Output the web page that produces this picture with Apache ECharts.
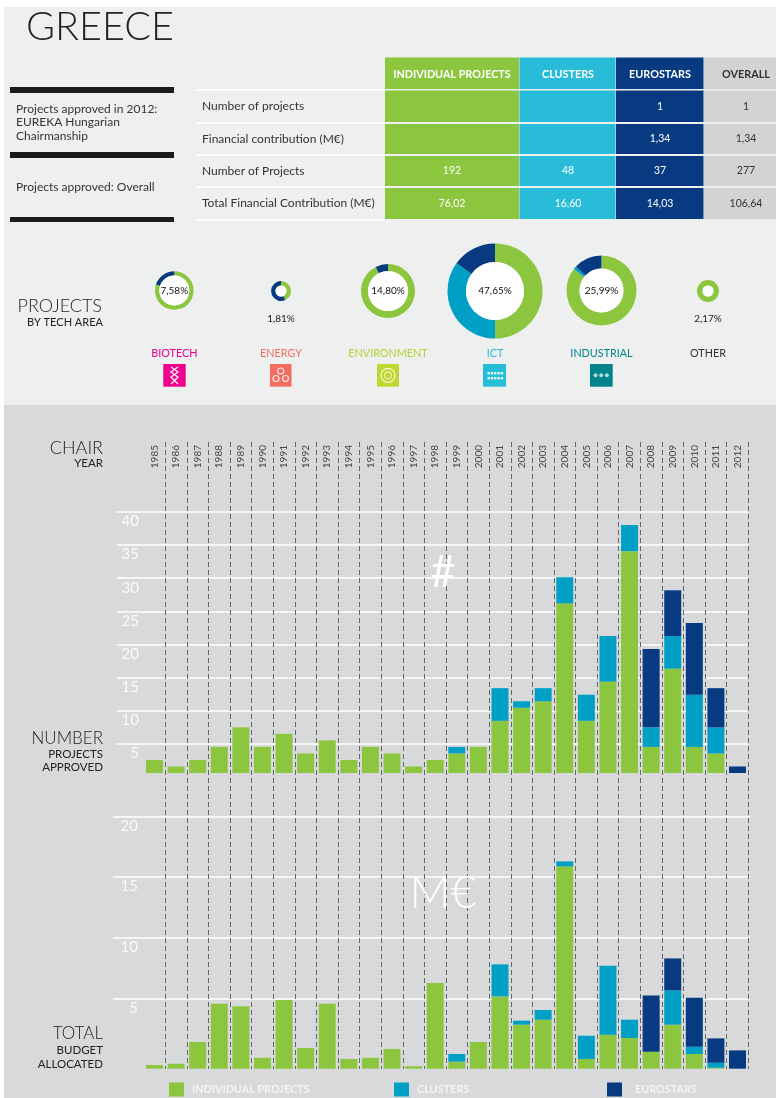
<!DOCTYPE html>
<html>
<head>
<meta charset="utf-8">
<style>html,body{margin:0;padding:0;background:#fff}#c{width:776px;height:1098px}</style>
<script src="https://cdn.jsdelivr.net/npm/echarts@6/dist/echarts.min.js"></script>
</head>
<body>
<div id="c"></div>
<script>
const years = ['1985','1986','1987','1988','1989','1990','1991','1992','1993','1994','1995','1996','1997','1998','1999','2000','2001','2002','2003','2004','2005','2006','2007','2008','2009','2010','2011','2012'];
const projGreen = [2,1,2,4,7,4,6,3,5,2,4,3,1,2,3,4,8,10,11,26,8,14,34,4,16,4,3,0];
const projCyan  = [0,0,0,0,0,0,0,0,0,0,0,0,0,0,1,0,5,1,2,4,4,7,4,3,5,8,4,0];
const projNavy  = [0,0,0,0,0,0,0,0,0,0,0,0,0,0,0,0,0,0,0,0,0,0,0,12,7,11,6,1];
const budgetGreen = [0.3,0.41,2.2,5.36,5.14,0.9,5.66,1.7,5.36,0.8,0.9,1.62,0.2,7.06,0.58,2.2,5.96,3.63,4.04,16.68,0.8,2.8,2.53,1.4,3.63,1.21,0.08,0];
const budgetCyan  = [0,0,0,0,0,0,0,0,0,0,0,0,0,0,0.63,0,2.64,0.33,0.8,0.41,1.92,5.69,1.51,0,2.83,0.6,0.41,0];
const budgetNavy  = [0,0,0,0,0,0,0,0,0,0,0,0,0,0,0,0,0,0,0,0,0,0,0,4.64,2.63,4.04,2.01,1.51];
const techNames = ['BIOTECH','ENERGY','ENVIRONMENT','ICT','INDUSTRIAL','OTHER'];
const techShares = ['7,58%','1,81%','14,80%','47,65%','25,99%','2,17%'];
const techGreen = [80,43,92.5,50,85.5,100];
const techCyan  = [0,0,0,35,1.5,0];
const techNavy  = [20,57,7.5,15,13,0];
const tableCols = ['INDIVIDUAL PROJECTS','CLUSTERS','EUROSTARS','OVERALL'];
const tableRows = ['Number of projects','Financial contribution (M€)','Number of Projects','Total Financial Contribution (M€)'];
const tableIndividual = ['','','192','76,02'];
const tableClusters = ['','','48','16,60'];
const tableEurostars = ['1','1,34','37','14,03'];
const tableOverall = ['1','1,34','277','106,64'];

const GREEN='#8cc63f', CYAN='#009fc5', NAVY='#083a82', LIGHTCYAN='#29bcd9';
const FONT='Lato, "Noto Sans", sans-serif';
const NAMES=['INDIVIDUAL PROJECTS','CLUSTERS','EUROSTARS'];

const g=[];
const rect=(x,y,w,h,fill,z=-5)=>g.push({type:'rect',shape:{x,y,width:w,height:h},style:{fill},z,silent:true});
const text=(x,y,t,o={})=>g.push({type:'text',x,y,z:20,silent:true,style:{text:t,fill:o.c||'#333',font:`${o.w||400} ${o.s||12}px ${FONT}`,textAlign:o.a||'left',textVerticalAlign:'middle'}});
const circ=(cx,cy,r,st)=>g.push({type:'circle',shape:{cx,cy,r},style:st,z:10,silent:true});

// panels
rect(4,7,772,398,'#eef0ef',-10);
rect(4,405,772,693,'#d8d9db',-10);

text(26,27.5,'GREECE',{s:39.5,w:300,c:'#222'});

// left side bars and captions
[[87,6],[152,6],[217,5]].forEach(b=>rect(10,b[0],164,b[1],'#1a1a1a'));
text(16,109,'Projects approved in 2012:');
text(16,122.5,'EUREKA Hungarian');
text(16,136,'Chairmanship');
text(16,187.5,'Projects approved: Overall');

// table
const colX=[385,519.5,616,704,776];
const colCenter=[452,568,660,746];
const colFill=[GREEN,LIGHTCYAN,NAVY,'#d2d3d5'];
const rowY=[[57.5,89],[90.5,122],[124,154],[156,186],[188,219]];
const rowVals=[tableIndividual,tableClusters,tableEurostars,tableOverall];
colFill.forEach((f,i)=>rowY.forEach(r=>rect(colX[i],r[0],colX[i+1]-colX[i]-(i<3?0.5:0),r[1]-r[0],f)));
tableCols.forEach((t,i)=>text(colCenter[i],74.5,t,{a:'center',w:700,s:10.8,c:i==3?'#333':'#fff'}));
tableRows.forEach((t,j)=>{
  const y=(rowY[j+1][0]+rowY[j+1][1])/2;
  text(202,y,t);
  rowVals.forEach((v,i)=>{ if(v[j]) text(colCenter[i],y,v[j],{a:'center',s:10.5,c:i==3?'#333':'#fff'}); });
});
[89.7,123,155,187,220].forEach(y=>rect(196,y-0.7,189,1.4,'#fff'));

// tech area heading
text(102,306.5,'PROJECTS',{a:'right',s:18,w:300,c:'#222'});
text(103,322.5,'BY TECH AREA',{a:'right',s:11,c:'#222'});

// tech area layout
const techX=[174.3,281,388,495,601.5,708];
const techY=[290.5,291,291,291,290.5,291];
const techR=[[15,19.3],[5.5,10],[20,27],[29,47.5],[22,35],[5.5,11]];
const techColor=['#ec008c','#f26c5f','#b5d334','#29bcd9','#00838a','#333333'];
const iconX=[163.3,270,377,483,590];
const iconW=[22.4,21.5,22,23,22.7];
techNames.forEach((n,i)=>{
  text(techX[i],354,n,{a:'center',s:10.8,c:techColor[i]});
  if(i<5) rect(iconX[i],364,iconW[i],22.7,techColor[i]==='#b5d334'?'#c0d72f':techColor[i],-5);
});
text(281,319,techShares[1],{a:'center',s:10,c:'#222'});
text(708,319,techShares[5],{a:'center',s:10,c:'#222'});
// icon glyphs
const wh='rgba(255,255,255,0.85)';
g.push({type:'polyline',z:10,silent:true,shape:{points:[[171,367],[178,372],[171,377],[178,384]]},style:{stroke:wh,fill:null,lineWidth:1.5}});
g.push({type:'polyline',z:10,silent:true,shape:{points:[[178,367],[171,372],[178,377],[171,384]]},style:{stroke:wh,fill:null,lineWidth:1.5}});
[[280.7,371],[276,378.5],[285.5,378.5]].forEach(p=>circ(p[0],p[1],3,{fill:null,stroke:wh,lineWidth:1.2}));
circ(388,375.3,7,{fill:null,stroke:wh,lineWidth:1.2});
circ(388,375.3,3.5,{fill:null,stroke:wh,lineWidth:1});
[0,1].forEach(r=>[0,1,2,3,4].forEach(c=>rect(487.5+c*3.3,372+r*5,2.4,2.4,wh,10)));
[0,1,2].forEach(c=>circ(595.5+c*5.7,375.3,2,{fill:'rgba(255,255,255,0.7)'}));

// side labels on lower panel
text(103,448,'CHAIR',{a:'right',s:18,w:300,c:'#222'});
text(103,463,'YEAR',{a:'right',s:11.5,c:'#222'});
text(103,739,'NUMBER',{a:'right',s:17,w:300,c:'#222'});
text(103,754,'PROJECTS',{a:'right',s:11.5,c:'#222'});
text(103,767,'APPROVED',{a:'right',s:11.5,c:'#222'});
text(103,1034,'TOTAL',{a:'right',s:17,w:300,c:'#222'});
text(103,1050,'BUDGET',{a:'right',s:11.5,c:'#222'});
text(103,1064,'ALLOCATED',{a:'right',s:11.5,c:'#222'});
text(443,573,'#',{a:'center',s:44,w:400,c:'#fff'});
text(443,893,'M€',{a:'center',s:45,w:300,c:'#fff'});

// pies
const pies=[];
techNames.forEach((n,i)=>{
  pies.push({type:'pie',silent:true,center:[techX[i],techY[i]],radius:[techR[i][0],techR[i][1]],startAngle:90,clockwise:true,
    label:{show:false},labelLine:{show:false},
    data:[{value:techGreen[i],itemStyle:{color:GREEN}},{value:techCyan[i],itemStyle:{color:CYAN}},{value:techNavy[i],itemStyle:{color:NAVY}}]});
  pies.push({type:'pie',silent:true,center:[techX[i],techY[i]],radius:[0,techR[i][0]],z:3,
    label:{show:i!==1&&i!==5,position:'center',formatter:techShares[i],fontFamily:FONT,fontSize:10,color:'#111'},labelLine:{show:false},
    data:[{value:1,itemStyle:{color:'#fff'}}]});
});

const valueAxisLabel={show:true,inside:false,align:'right',verticalAlign:'top',color:'#fafafa',fontFamily:FONT,fontWeight:400,fontSize:15,padding:[2,0,0,0]};
const gridY=(idx,max,margin)=>({type:'value',gridIndex:idx,min:0,max,interval:5,axisLine:{show:false},axisTick:{show:false},
  axisLabel:Object.assign({},valueAxisLabel,{margin,formatter:v=>v===0?'':String(v)}),
  splitLine:{show:true,showMinLine:false,lineStyle:{color:'#fff',width:1.5}}});
const hiddenY=(idx,max)=>({type:'value',gridIndex:idx,min:0,max,show:false,splitLine:{show:false}});
const hiddenX=idx=>({type:'category',gridIndex:idx,data:years,show:false,splitLine:{show:false}});

const barSeries=(xi,stack,vals)=>vals.map((v,i)=>({type:'bar',name:NAMES[i],xAxisIndex:xi,yAxisIndex:xi,stack,barWidth:17,z:3,silent:true,
  itemStyle:{color:[GREEN,CYAN,NAVY][i]},data:v}));

const legendAt=(name,left,pad)=>({data:[name],left,top:1082.5,padding:0,itemWidth:15,itemHeight:14,icon:'rect',selectedMode:false,
  textStyle:{color:'#f4f4f4',fontFamily:FONT,fontWeight:700,fontSize:10.8,padding:[3,0,0,pad]}});

const option={
  animation:false,
  backgroundColor:'#ffffff',
  textStyle:{fontFamily:FONT},
  legend:[legendAt(NAMES[0],169,3),legendAt(NAMES[1],394,3),legendAt(NAMES[2],607,8)],
  graphic:{elements:g},
  grid:[
    {left:143.7,width:604.6,top:442,height:627},
    {left:117,width:631.5,top:512,height:264.8},
    {left:143.7,width:604.6,top:512,height:261},
    {left:113,width:637,top:816.3,height:242.7},
    {left:143.7,width:604.6,top:826.1,height:242.6}
  ],
  xAxis:[
    {type:'category',gridIndex:0,data:years,position:'top',axisLine:{show:false},axisTick:{show:false},
      axisLabel:{show:true,inside:true,interval:0,rotate:90,margin:3,fontSize:10,fontFamily:FONT,color:'#444'},
      splitLine:{show:true,showMinLine:false,interval:0,lineStyle:{color:'#666',width:1,type:[5,3]}}},
    hiddenX(1),hiddenX(2),hiddenX(3),hiddenX(4)
  ],
  yAxis:[
    hiddenY(0,40),
    gridY(1,40,-22),
    hiddenY(2,40),
    gridY(3,20,-25),
    hiddenY(4,20)
  ],
  series:[
    ...barSeries(2,'projects',[projGreen,projCyan,projNavy]),
    ...barSeries(4,'budget',[budgetGreen,budgetCyan,budgetNavy]),
    ...pies
  ]
};
echarts.init(document.getElementById('c')).setOption(option);
</script>
</body>
</html>
